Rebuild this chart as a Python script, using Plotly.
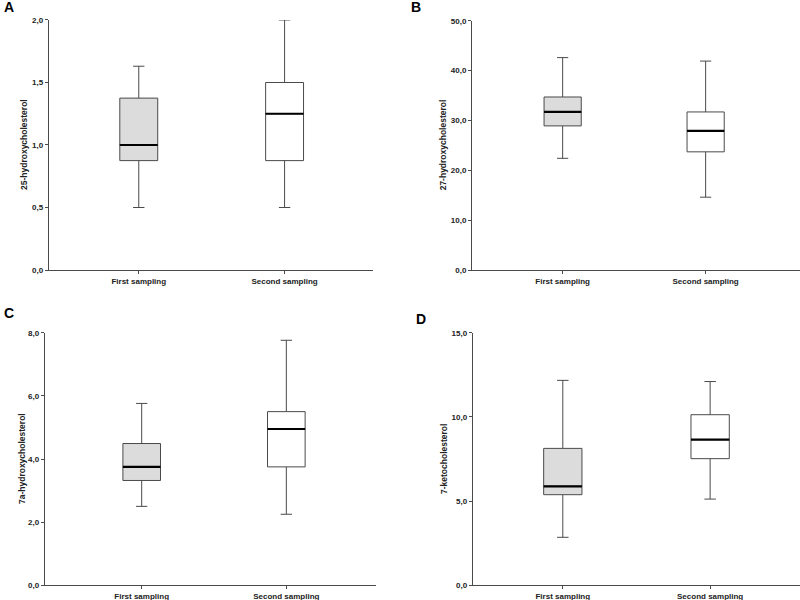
import plotly.graph_objects as go

panels = ["A", "B", "C", "D"]
y_titles = ["25-hydroxycholesterol", "27-hydroxycholesterol", "7a-hydroxycholesterol", "7-ketocholesterol"]
categories = ["First sampling", "Second sampling"]

lower = [[0.5, 0.5], [22.4, 14.6], [2.5, 2.25], [2.85, 5.12]]
q1 = [[0.875, 0.875], [28.9, 23.7], [3.32, 3.75], [5.38, 7.52]]
median = [[1.0, 1.25], [31.7, 27.9], [3.75, 4.95], [5.88, 8.65]]
q3 = [[1.375, 1.5], [34.7, 31.7], [4.49, 5.5], [8.13, 10.13]]
upper = [[1.63, 2.0], [42.6, 41.9], [5.76, 7.76], [12.17, 12.1]]
y_max = [2.0, 50.0, 8.0, 15.0]
y_step = [0.5, 10.0, 2.0, 5.0]

x_domains = [[0.061, 0.466], [0.59, 1.0], [0.056, 0.47], [0.591, 1.0]]
y_domains = [[0.55, 0.9667], [0.55, 0.9655], [0.0245, 0.4455], [0.0245, 0.4455]]
x_ranges = [[-0.617, 1.605], [-0.634, 1.66], [-0.67, 1.62], [-0.611, 1.61]]
letter_pos = [(2, -3), (409, -3), (2, 303), (414, 309)]
title_x = [24, 443, 22, 444]

fills = ["#dcdcdc", "#ffffff"]
line_col = "#4a4a4a"
box_w = 0.26
font = "Liberation Sans, Arial, sans-serif"

fig = go.Figure()
for p in range(4):
    ax = "" if p == 0 else str(p + 1)
    for i in range(2):
        fig.add_trace(go.Box(
            x=[i], q1=[q1[p][i]], median=[median[p][i]], q3=[q3[p][i]],
            lowerfence=[lower[p][i]], upperfence=[upper[p][i]],
            width=box_w, whiskerwidth=0.3, fillcolor=fills[i],
            line=dict(color=line_col, width=1), boxpoints=False,
            showlegend=False, xaxis="x" + ax, yaxis="y" + ax,
        ))
        # heavier black median line
        fig.add_trace(go.Scatter(
            x=[i - box_w / 2, i + box_w / 2], y=[median[p][i]] * 2,
            mode="lines", line=dict(color="black", width=2.2),
            showlegend=False, hoverinfo="skip", xaxis="x" + ax, yaxis="y" + ax,
        ))
    fig.layout["xaxis" + ax] = dict(
        domain=x_domains[p], range=x_ranges[p], anchor="y" + ax, automargin=False,
        tickvals=[0, 1], ticktext=["<b>" + c + "</b>" for c in categories],
        showgrid=False, zeroline=False,
        showline=True, linecolor=line_col, linewidth=1, ticks="outside",
        ticklen=3, tickcolor=line_col,
        tickfont=dict(family=font, size=8, color="#222"),
    )
    fig.layout["yaxis" + ax] = dict(
        domain=y_domains[p], range=[0, y_max[p]], anchor="x" + ax, automargin=False,
        dtick=y_step[p], tick0=0, tickformat=".1f", showgrid=False, zeroline=False,
        showline=True, linecolor=line_col, linewidth=1, ticks="outside",
        ticklen=3, tickcolor=line_col, tickprefix="<b>", ticksuffix="</b>",
        tickfont=dict(family=font, size=8, color="#222"),
    )
    d = y_domains[p]
    fig.add_annotation(
        text="<b>" + y_titles[p] + "</b>", x=title_x[p] / 800, y=(d[0] + d[1]) / 2,
        xref="paper", yref="paper", xanchor="center", yanchor="middle",
        textangle=-90, showarrow=False,
        font=dict(family=font, size=8.5, color="#222"),
    )
    fig.add_annotation(
        text="<b>" + panels[p] + "</b>", x=letter_pos[p][0] / 800, y=1 - letter_pos[p][1] / 600,
        xref="paper", yref="paper", xanchor="left", yanchor="top", showarrow=False,
        font=dict(family=font, size=14, color="black"),
    )

fig.update_layout(
    width=800, height=600, margin=dict(l=0, r=0, t=0, b=0),
    plot_bgcolor="white", paper_bgcolor="white", separators=",.",
    font=dict(family=font),
)

# the page body has an 8px default margin; drop it so the figure fills the window
fig.write_html("out.html", config={"displayModeBar": False},
               post_script="document.body.style.margin='0';")
